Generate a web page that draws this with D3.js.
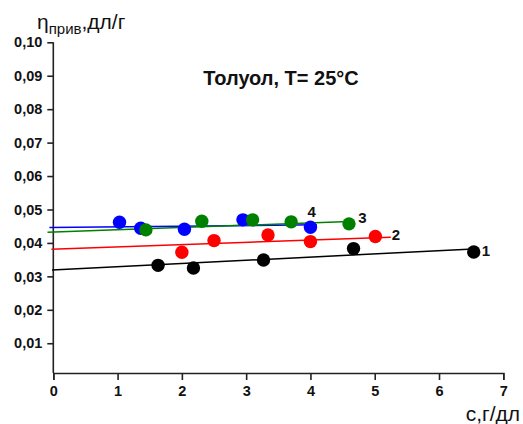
<!DOCTYPE html>
<html>
<head>
<meta charset="utf-8">
<script src="https://cdn.jsdelivr.net/npm/d3@7"></script>
<style>
  html, body { margin: 0; padding: 0; background: #fff; }
  svg { display: block; font-family: Arial, "Liberation Sans", sans-serif; }
</style>
</head>
<body>
<svg id="chart" width="523" height="424"></svg>
<script>
// Concentration (g/dl) and reduced viscosity (dl/g) for each sample
const x1 = [1.63, 2.18, 3.27, 4.67, 6.54];
const y1 = [0.0333, 0.0325, 0.0349, 0.0383, 0.0373];
const x2 = [2.00, 2.50, 3.34, 4.00, 5.01];
const y2 = [0.0372, 0.0407, 0.0424, 0.0404, 0.0419];
const x3 = [1.44, 2.31, 3.10, 3.70, 4.60];
const y3 = [0.0439, 0.0465, 0.0469, 0.0463, 0.0457];
const x4 = [1.03, 1.36, 2.04, 2.95, 4.00];
const y4 = [0.0462, 0.0444, 0.0441, 0.0469, 0.0447];

// Linear fits: [c start, c end] and [η start, η end]
const fit1c = [-0.02, 6.53], fit1y = [0.0319, 0.0382];
const fit2c = [-0.03, 5.25], fit2y = [0.0381, 0.0417];
const fit3c = [-0.09, 4.60], fit3y = [0.0432, 0.0464];
const fit4c = [-0.06, 4.10], fit4y = [0.0446, 0.0454];

const seriesNames = ["1", "2", "3", "4"];
const xTicks = [0, 1, 2, 3, 4, 5, 6, 7];
const yTicks = [0.01, 0.02, 0.03, 0.04, 0.05, 0.06, 0.07, 0.08, 0.09, 0.10];
const titleText = "Толуол, T= 25°C";

const svg = d3.select("#chart");

const x = d3.scaleLinear().domain([0, 7]).range([53.3, 503.3]);
const y = d3.scaleLinear().domain([0.0011, 0.10]).range([373, 42.3]);

const series = [
  { name: seriesNames[0], xs: x1, ys: y1, fc: fit1c, fy: fit1y, color: "#000000", lab: [6.73, 0.0372] },
  { name: seriesNames[1], xs: x2, ys: y2, fc: fit2c, fy: fit2y, color: "#ff0000", lab: [5.33, 0.0421] },
  { name: seriesNames[3], xs: x4, ys: y4, fc: fit4c, fy: fit4y, color: "#0000ff", lab: [4.02, 0.0490] },
  { name: seriesNames[2], xs: x3, ys: y3, fc: fit3c, fy: fit3y, color: "#008000", lab: [4.81, 0.0471] }
];

// Axes
const axisColor = "#222";
const yAxis = d3.axisLeft(y).tickValues(yTicks).tickSize(6).tickPadding(5)
  .tickFormat(d => d3.format(".2f")(d).replace(".", ","));
const xAxis = d3.axisBottom(x).tickValues(xTicks).tickSize(7).tickPadding(6)
  .tickFormat(d3.format("d"));

const gy = svg.append("g").attr("transform", `translate(${x(0)},0)`).call(yAxis);
const gx = svg.append("g").attr("transform", `translate(0,${y(0.0011)})`).call(xAxis);

[gx, gy].forEach(g => {
  g.select(".domain").attr("stroke", axisColor).attr("stroke-width", 1.6);
  g.selectAll(".tick line").attr("stroke", axisColor).attr("stroke-width", 1.6);
  g.selectAll(".tick text")
    .attr("fill", "#111")
    .style("font-size", "14.5px")
    .style("font-weight", "bold")
    .style("font-family", "Arial, 'Liberation Sans', sans-serif");
});
gy.select(".domain").attr("d", `M-0,${y(0.10)}V${y(0.0011)}`);

// Fit lines
const line = d3.line().x(d => x(d[0])).y(d => y(d[1]));
series.forEach(s => {
  svg.append("path")
    .datum(s.fc.map((c, i) => [c, s.fy[i]]))
    .attr("d", line)
    .attr("fill", "none")
    .attr("stroke", s.color)
    .attr("stroke-width", 1.5);
});

// Data points
series.forEach(s => {
  svg.append("g").selectAll("circle")
    .data(s.xs.map((c, i) => [c, s.ys[i]]))
    .join("circle")
    .attr("cx", d => x(d[0]))
    .attr("cy", d => y(d[1]))
    .attr("r", 6.7)
    .attr("fill", s.color);
});

// Series numbers
series.forEach(s => {
  svg.append("text")
    .attr("x", x(s.lab[0]))
    .attr("y", y(s.lab[1]))
    .attr("text-anchor", "middle")
    .attr("dominant-baseline", "middle")
    .style("font-size", "15px")
    .style("font-weight", "bold")
    .attr("fill", "#111")
    .text(s.name);
});

// Title inside the plot
svg.append("text")
  .attr("x", 281)
  .attr("y", 85)
  .attr("text-anchor", "middle")
  .style("font-size", "20px")
  .style("font-weight", "bold")
  .attr("fill", "#111")
  .text(titleText);

// Y axis title: η with subscript
const yt = svg.append("text")
  .attr("x", 37)
  .attr("y", 29)
  .style("font-size", "21px")
  .attr("fill", "#111");
yt.append("tspan").text("η");
yt.append("tspan").attr("dy", 5).style("font-size", "15px").text("прив");
yt.append("tspan").attr("dy", -5).text(",дл/г");

// X axis title
svg.append("text")
  .attr("x", 520)
  .attr("y", 421)
  .attr("text-anchor", "end")
  .style("font-size", "21px")
  .attr("fill", "#111")
  .text("с,г/дл");
</script>
</body>
</html>
